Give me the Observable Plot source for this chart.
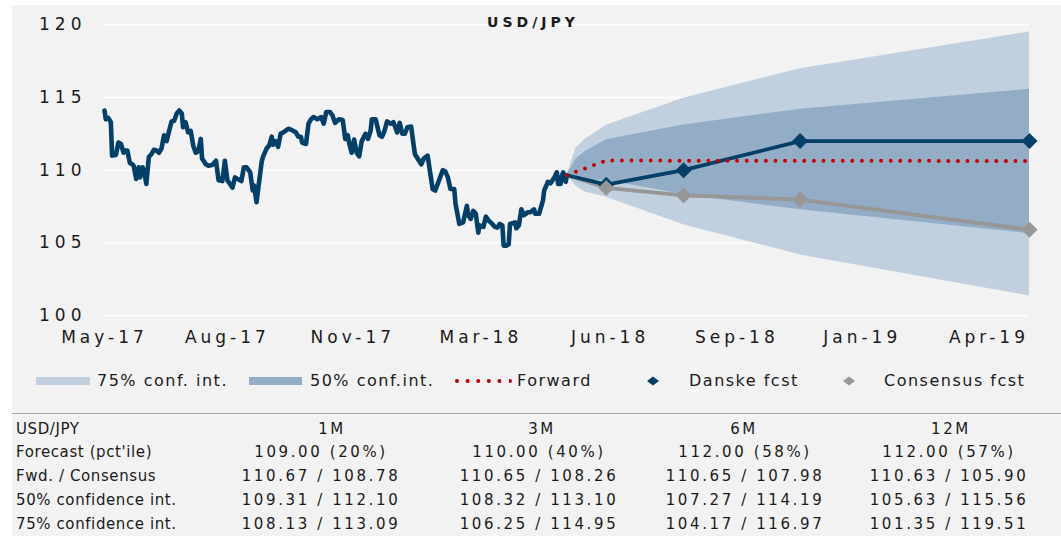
<!DOCTYPE html>
<html><head><meta charset="utf-8">
<script src="https://cdn.jsdelivr.net/npm/d3@7"></script>
<script src="https://cdn.jsdelivr.net/npm/@observablehq/plot@0.6"></script>
<style>
html,body{margin:0;padding:0;background:#fff;}
body{width:1061px;height:536px;overflow:hidden;font-family:"DejaVu Sans",sans-serif;color:#1a1a1a;position:relative;}
#panel{position:absolute;left:12px;top:5px;width:1049px;height:531px;background:#f2f2f2;}
#chart{position:absolute;left:0;top:0;}
#title{position:absolute;left:0;width:1049px;top:0;height:30px;}
#legend{position:absolute;left:0;top:361px;}
#table{position:absolute;left:0;top:405px;}
#chart [aria-label="y-axis tick label"] text{letter-spacing:5px;}
#chart [aria-label="x-axis tick label"] text{letter-spacing:4px;}
.lg{font-size:16px;letter-spacing:1.5px;fill:#1a1a1a;}
.tl{font-size:15px;letter-spacing:0.6px;fill:#1a1a1a;}
.tn{font-size:15px;letter-spacing:2.6px;fill:#1a1a1a;text-anchor:middle;}
</style></head>
<body>
<div id="panel">
  <div id="chart"></div>
  <svg id="title" width="1049" height="30"></svg>
  <svg id="legend" width="1049" height="30"></svg>
  <svg id="table" width="1049" height="126"></svg>
</div>
<script>
// ---------------- data ----------------
const startDate = "2017-05-08";
const endDate = "2019-05-08";
const histDays = [0,1,3,5,6,9,11,13,15,16,18,20,22,23,25,27,28,30,31,33,35,37,39,41,43,45,47,49,51,53,55,57,59,61,62,64,66,68,70,72,74,76,77,80,82,85,88,90,93,95,97,99,101,103,105,108,110,112,115,117,118,120,121,124,125,128,130,132,133,135,137,139,142,145,148,151,153,155,156,159,161,163,165,168,171,173,175,178,180,182,185,188,190,192,193,195,197,199,201,203,206,208,210,211,214,217,219,221,223,226,228,231,233,235,237,239,242,244,245,250,252,255,259,261,264,267,269,271,273,276,277,280,283,286,287,289,291,293,295,296,299,301,303,306,308,310,312,314,315,317,319,320,324,325,327,329,331,334,336,339,340,343,346,347,350,352,355,357,358,360,361,362,364,365];
const histValues = [114.1,113.5,113.6,113.3,111.0,111.05,111.9,111.8,111.2,111.35,111.35,110.5,110.4,110.3,109.4,110.2,109.5,110.2,110.0,109.05,110.9,111.1,111.4,111.35,111.2,111.5,112.4,112.0,112.7,113.35,113.4,113.9,114.1,113.9,112.95,113.3,112.6,112.7,111.7,111.2,111.3,112.15,110.8,110.4,110.3,110.35,110.65,109.3,109.25,110.65,109.3,109.05,108.8,109.5,109.4,109.25,110.2,110.2,109.85,108.6,108.95,107.8,108.5,110.55,110.9,111.5,111.7,112.3,111.75,112.0,111.6,112.5,112.65,112.85,112.75,112.6,112.3,112.3,111.9,111.8,113.2,113.5,113.65,113.5,113.65,113.2,114.0,114.0,113.75,113.25,113.5,113.45,112.15,112.4,111.9,111.2,112.1,111.2,110.95,112.0,112.5,112.15,112.7,113.5,113.5,112.4,112.3,112.7,113.35,113.2,113.3,112.6,113.25,112.5,112.5,112.95,113.0,111.7,111.1,110.4,110.8,111.0,108.7,108.6,109.3,110.0,109.9,109.5,108.7,108.7,107.7,106.3,106.4,107.55,106.9,106.65,107.2,107.0,105.7,106.2,106.1,106.8,106.55,106.3,106.1,106.05,106.3,106.2,104.8,104.8,104.9,106.3,106.4,106.0,106.2,107.3,106.9,107.1,107.1,107.3,107.0,107.0,107.9,108.6,109.2,109.1,109.5,109.85,109.05,109.05,109.6,109.85,109.2,109.65];

const horizons = ["Spot","1M","3M","6M","12M"];
const fcDates = ["2018-05-08","2018-06-08","2018-08-08","2018-11-08","2019-05-08"];
const danske = [109.65,109.00,110.00,112.00,112.00];
const danskePct = [null,20,40,58,57];
const consensus = [109.65,108.78,108.26,107.98,105.90];
const forward = [109.65,110.67,110.65,110.65,110.63];

const bandDates = ["2018-05-08","2018-05-15","2018-05-22","2018-06-08","2018-08-08","2018-11-08","2019-05-08"];
const ci75Low  = [109.65,108.90,108.50,108.13,106.25,104.17,101.35];
const ci75High = [109.65,111.50,112.10,113.09,114.95,116.97,119.51];
const ci50Low  = [109.65,109.40,109.30,109.31,108.32,107.27,105.63];
const ci50High = [109.65,110.75,111.25,112.10,113.10,114.19,115.56];

const yTicks = [100,105,110,115,120];
const xTickDates = ["2017-05-08","2017-08-13","2017-11-20","2018-03-01","2018-06-11","2018-09-19","2018-12-27","2019-04-06"];
const xTickLabels = ["May-17","Aug-17","Nov-17","Mar-18","Jun-18","Sep-18","Jan-19","Apr-19"];

const title = "USD/JPY";
const legendLabels = ["75% conf. int.","50% conf.int.","Forward","Danske fcst","Consensus fcst"];
const tableHeader = ["USD/JPY","1M","3M","6M","12M"];
const rowLabels = ["Forecast (pct'ile)","Fwd. / Consensus","50% confidence int.","75% confidence int."];

// ---------------- colours ----------------
const navy = "#033f66", grey = "#979797", red = "#c00000", light = "#c0d0df", dark = "#93adc6";

// ---------------- build tables ----------------
const t0 = +new Date(startDate);
const hist = histDays.map((d, i) => ({date: new Date(t0 + d * 864e5), value: histValues[i]}));
const fc = fcDates.map((d, i) => ({date: new Date(d), danske: danske[i], consensus: consensus[i], forward: forward[i]}));
const band = bandDates.map((d, i) => ({date: new Date(d), lo75: ci75Low[i], hi75: ci75High[i], lo50: ci50Low[i], hi50: ci50High[i]}));
const tickDates = xTickDates.map(d => new Date(d));
const tickLabelMap = new Map(tickDates.map((d, i) => [+d, xTickLabels[i]]));

const chart = Plot.plot({
  width: 1049, height: 355,
  marginLeft: 92, marginRight: 32, marginTop: 19.3, marginBottom: 45,
  style: {background: "transparent", fontFamily: "'DejaVu Sans', sans-serif", color: "#1a1a1a", overflow: "visible"},
  x: {type: "utc", domain: [new Date(startDate), new Date(endDate)]},
  y: {domain: [100, 120]},
  marks: [
    Plot.ruleY(yTicks, {stroke: "#ffffff", strokeWidth: 1.3}),
    Plot.areaY(band, {x: "date", y1: "lo75", y2: "hi75", fill: light, curve: "linear"}),
    Plot.areaY(band, {x: "date", y1: "lo50", y2: "hi50", fill: dark, curve: "linear"}),
    Plot.line(hist, {x: "date", y: "value", stroke: navy, strokeWidth: 4.6, strokeLinejoin: "round"}),
    Plot.line(fc, {x: "date", y: "consensus", stroke: grey, strokeWidth: 3.8}),
    Plot.line(fc, {x: "date", y: "danske", stroke: navy, strokeWidth: 3.8}),
    Plot.line(fc, {x: "date", y: "forward", stroke: red, strokeWidth: 4, strokeDasharray: "0,9.6", strokeLinecap: "round"}),
    Plot.dot(fc.slice(1), {x: "date", y: "danske", symbol: "diamond2", r: 7.2, fill: navy}),
    Plot.dot(fc.slice(1), {x: "date", y: "consensus", symbol: "diamond2", r: 7.2, fill: grey}),
    Plot.axisX({ticks: tickDates, tickFormat: d => tickLabelMap.get(+d), tickSize: 0, tickPadding: 15, fontSize: 17, label: null}),
    Plot.axisY({ticks: yTicks, tickSize: 0, tickPadding: 18, fontSize: 17, label: null})
  ]
});
document.getElementById("chart").appendChild(chart);

// ---------------- title ----------------
const ns = "http://www.w3.org/2000/svg";
function el(parent, tag, attrs, text) {
  const e = document.createElementNS(ns, tag);
  for (const k in attrs) e.setAttribute(k, attrs[k]);
  if (text != null) e.textContent = text;
  parent.appendChild(e);
  return e;
}
const tsvg = document.getElementById("title");
el(tsvg, "text", {x: 521, y: 22, "text-anchor": "middle", "font-size": 14, "font-weight": "bold", "letter-spacing": "4", fill: "#1a1a1a"}, title);

// ---------------- legend ----------------
const lg = document.getElementById("legend");
el(lg, "rect", {x: 24, y: 11, width: 54, height: 8, fill: light});
el(lg, "text", {x: 85, y: 20, class: "lg"}, legendLabels[0]);
el(lg, "rect", {x: 237, y: 11, width: 53, height: 8, fill: dark});
el(lg, "text", {x: 298, y: 20, class: "lg"}, legendLabels[1]);
el(lg, "line", {x1: 445, x2: 498, y1: 15, y2: 15, stroke: red, "stroke-width": 4, "stroke-dasharray": "0,10.6", "stroke-linecap": "round"});
el(lg, "text", {x: 505, y: 20, class: "lg"}, legendLabels[2]);
el(lg, "polygon", {points: "635,15 641,10.5 647,15 641,19.5", fill: navy});
el(lg, "text", {x: 677, y: 20, class: "lg"}, legendLabels[3]);
el(lg, "polygon", {points: "831,15 837,10.5 843,15 837,19.5", fill: grey});
el(lg, "text", {x: 872, y: 20, class: "lg"}, legendLabels[4]);

// ---------------- table ----------------
const tb = document.getElementById("table");
el(tb, "line", {x1: 0, x2: 1049, y1: 3.5, y2: 3.5, stroke: "#a6a6a6", "stroke-width": 1});
const rowY = [23.8, 47.4, 71.2, 94.8, 118.6];
const headX = [320, 530, 732, 939];
const dataX = [309, 527, 733, 937];
el(tb, "text", {x: 4, y: rowY[0], class: "tl"}, tableHeader[0]);
tableHeader.slice(1).forEach((h, j) => el(tb, "text", {x: headX[j], y: rowY[0], class: "tn"}, h));
rowLabels.forEach((r, i) => el(tb, "text", {x: 4, y: rowY[i + 1], class: "tl"}, r));
const f2 = d3.format(".2f");
for (let j = 0; j < 4; j++) {
  const h = j + 1, b = bandDates.indexOf(fcDates[h]);
  const cells = [
    `${f2(danske[h])} (${danskePct[h]}%)`,
    `${f2(forward[h])} / ${f2(consensus[h])}`,
    `${f2(ci50Low[b])} / ${f2(ci50High[b])}`,
    `${f2(ci75Low[b])} / ${f2(ci75High[b])}`
  ];
  cells.forEach((c, i) => el(tb, "text", {x: dataX[j], y: rowY[i + 1], class: "tn"}, c));
}
</script>
</body></html>
